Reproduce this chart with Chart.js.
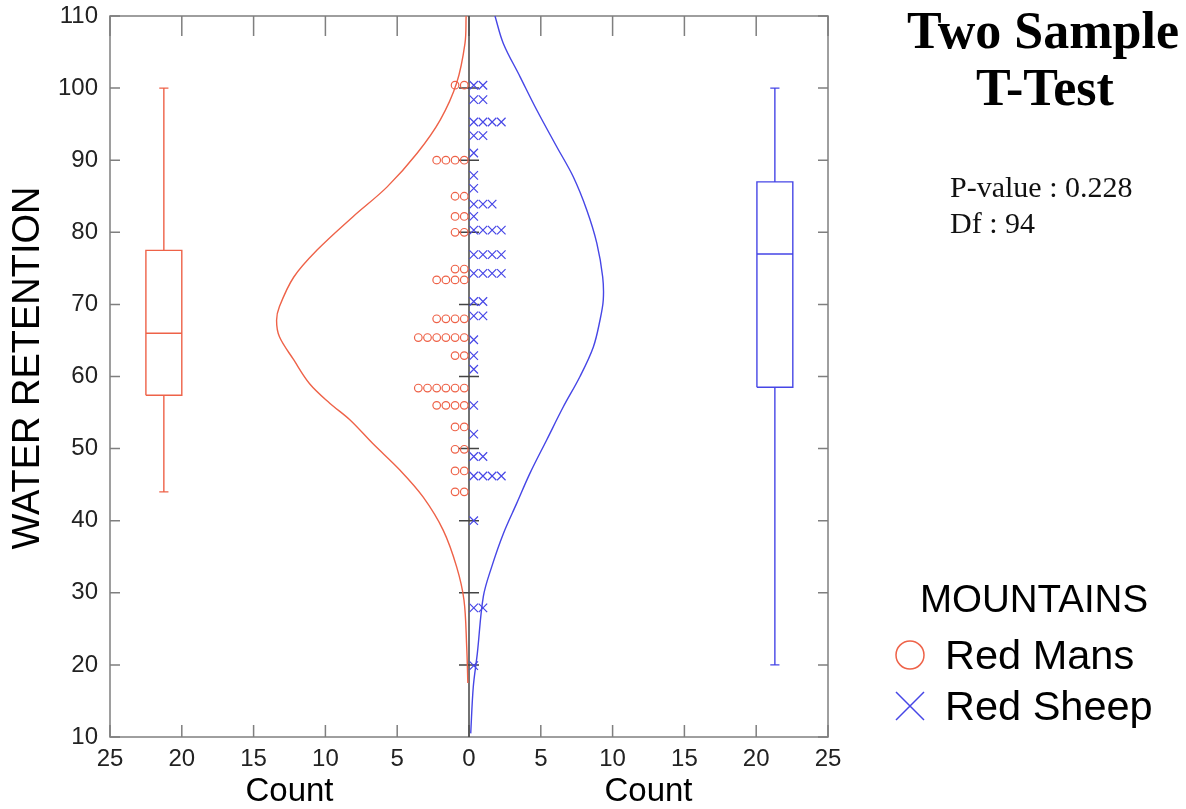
<!DOCTYPE html>
<html>
<head>
<meta charset="utf-8">
<script src="https://cdn.jsdelivr.net/npm/chart.js@4.4.1/dist/chart.umd.min.js"></script>
<style>
  html, body { margin: 0; padding: 0; background: #fff; }
  #wrap { width: 1186px; height: 809px; }
</style>
</head>
<body>
<div id="wrap"><canvas id="myChart"></canvas></div>
<script>
// dot rows: water retention level and how many symbols sit on that row
const redLevels = [100.4, 90, 85, 82.2, 80, 74.9, 73.4, 68, 65.4, 62.9, 58.4, 56, 53, 49.9, 46.9, 44]
const redCounts = [2, 4, 2, 2, 2, 2, 4, 4, 6, 2, 6, 4, 2, 2, 2, 2]
const blueLevels = [100.4, 98.4, 95.3, 93.4, 91, 87.9, 86.1, 83.9, 82.2, 80.3, 76.9, 74.3, 70.4, 68.4, 65.1, 62.9, 61, 56, 52, 48.9, 46.2, 40, 27.9, 19.9]
const blueCounts = [2, 2, 4, 2, 1, 1, 1, 3, 1, 4, 4, 4, 2, 2, 1, 1, 1, 1, 1, 2, 4, 1, 2, 1]

// fitted curves (y = retention, c = count)
const redCurveY = [110, 106.2, 100.7, 95.6, 91.0, 86.3, 82.2, 77.5, 73.8, 69.7, 67.8, 65.5, 62.3, 59.0, 56.3, 54.0, 50.7, 47.0, 43.3, 38.7, 33.6, 29.0, 22.5, 17.5]
const redCurveC = [0.2, 0.28, 0.86, 2.0, 3.6, 5.7, 8.06, 10.6, 12.2, 13.2, 13.4, 13.2, 12.2, 11.1, 9.7, 8.3, 6.7, 4.8, 3.2, 1.8, 0.86, 0.35, 0.16, 0.08]
const blueCurveY = [110, 106.2, 101.6, 97.0, 91.9, 87.7, 83.1, 78.5, 73.8, 70.6, 67.8, 64.1, 60.0, 55.8, 51.2, 46.6, 42.4, 38.2, 33.6, 29.5, 21.6, 17, 10.5]
const blueCurveC = [1.81, 2.39, 3.55, 4.71, 6.1, 7.26, 8.2, 8.9, 9.31, 9.35, 9.12, 8.66, 7.73, 6.57, 5.41, 4.25, 3.32, 2.39, 1.58, 1.0, 0.58, 0.3, 0.12]

// box plots: min, q1, median, q3, max
const redBox = [44, 57.4, 66, 77.5, 100]
const blueBox = [20, 58.5, 77, 87, 100]

const xTicks = [-25, -20, -15, -10, -5, 0, 5, 10, 15, 20, 25]
const yTicks = [10, 20, 30, 40, 50, 60, 70, 80, 90, 100, 110]

const RED = '#ee6248'
const BLUE = '#4646e6'

const dotStep = 0.64
const dotStart = 0.33

function dots(levels, counts, side) {
  const pts = []
  levels.forEach((y, i) => {
    for (let k = 0; k < counts[i]; k++) {
      pts.push({ x: side * (dotStart + dotStep * k), y: y })
    }
  })
  return pts
}

function curve(ys, cs, side) {
  return ys.map((y, i) => ({ x: side * cs[i], y: y }))
}

function boxPath(s, c) {
  const h = 1.25, cap = 0.32
  const gap = { x: null, y: null }
  return [
    { x: c - h, y: s[1] }, { x: c + h, y: s[1] }, { x: c + h, y: s[3] }, { x: c - h, y: s[3] }, { x: c - h, y: s[1] }, gap,
    { x: c - h, y: s[2] }, { x: c + h, y: s[2] }, gap,
    { x: c, y: s[3] }, { x: c, y: s[4] }, gap,
    { x: c, y: s[1] }, { x: c, y: s[0] }, gap,
    { x: c - cap, y: s[4] }, { x: c + cap, y: s[4] }, gap,
    { x: c - cap, y: s[0] }, { x: c + cap, y: s[0] }
  ]
}

const lineSet = (data, color, tension) => ({
  type: 'scatter', data: data, showLine: true, borderColor: color, borderWidth: 1.4,
  pointRadius: 0, fill: false, spanGaps: false, tension: tension
})

const frame = {
  id: 'frame',
  beforeDatasetsDraw(chart) {
    const { ctx, chartArea: a, scales: { x, y } } = chart
    ctx.save()
    ctx.strokeStyle = '#7f7f7f'
    ctx.lineWidth = 1.5
    ctx.strokeRect(a.left, a.top, a.right - a.left, a.bottom - a.top)
    ctx.beginPath()
    xTicks.forEach(t => {
      const px = x.getPixelForValue(t)
      ctx.moveTo(px, a.top); ctx.lineTo(px, a.top + 20)
      ctx.moveTo(px, a.bottom); ctx.lineTo(px, a.bottom - 12)
    })
    yTicks.forEach(t => {
      const py = y.getPixelForValue(t)
      ctx.moveTo(a.left, py); ctx.lineTo(a.left + 10, py)
      ctx.moveTo(a.right, py); ctx.lineTo(a.right - 10, py)
    })
    ctx.stroke()
    // centre axis with its own ticks
    const cx = x.getPixelForValue(0)
    ctx.strokeStyle = '#444'
    ctx.beginPath()
    ctx.moveTo(cx, a.top); ctx.lineTo(cx, a.bottom)
    yTicks.slice(1, -1).forEach(t => {
      const py = y.getPixelForValue(t)
      ctx.moveTo(cx - 10, py); ctx.lineTo(cx + 10, py)
    })
    ctx.stroke()
    ctx.restore()
  },
  afterDraw(chart) {
    const { ctx, scales: { x } } = chart
    ctx.save()
    ctx.fillStyle = '#000'
    ctx.textAlign = 'center'
    ctx.textBaseline = 'alphabetic'
    ctx.font = '33px "Liberation Sans", Arial, sans-serif'
    ctx.fillText('Count', x.getPixelForValue(-12.5), 801)
    ctx.fillText('Count', x.getPixelForValue(12.5), 801)

    // y title
    ctx.save()
    ctx.translate(29, 368)
    ctx.rotate(-Math.PI / 2)
    ctx.textBaseline = 'middle'
    ctx.font = '38px "Liberation Sans", Arial, sans-serif'
    ctx.fillText('WATER RETENTION', 0, 0)
    ctx.restore()

    ctx.font = 'bold 52px "Liberation Serif", "Times New Roman", serif'
    ctx.fillText('Two Sample', 1043, 48)
    ctx.fillText('T-Test', 1045, 105)

    ctx.textAlign = 'left'
    ctx.font = '30px "Liberation Serif", "Times New Roman", serif'
    ctx.fillStyle = '#111'
    ctx.fillText('P-value : 0.228', 950, 197)
    ctx.fillText('Df : 94', 950, 233)

    // legend
    ctx.fillStyle = '#000'
    ctx.textAlign = 'center'
    ctx.font = '38.5px "Liberation Sans", Arial, sans-serif'
    ctx.fillText('MOUNTAINS', 1034, 612)
    ctx.textAlign = 'left'
    ctx.font = '41.5px "Liberation Sans", Arial, sans-serif'
    const items = chart.data.datasets.filter(d => d.legend)
    items.forEach((d, i) => {
      const ly = 655 + i * 51
      ctx.strokeStyle = d.borderColor
      ctx.lineWidth = 1.5
      ctx.beginPath()
      if (d.pointStyle === 'circle') {
        ctx.arc(910, ly, 14, 0, Math.PI * 2)
      } else {
        ctx.moveTo(896, ly - 14); ctx.lineTo(924, ly + 14)
        ctx.moveTo(896, ly + 14); ctx.lineTo(924, ly - 14)
      }
      ctx.stroke()
      ctx.fillText(d.label, 945, ly + 14)
    })
    ctx.restore()
  }
}

const ctx = document.getElementById('myChart')
new Chart(ctx, {
  type: 'scatter',
  data: {
    datasets: [
      { label: 'Red Mans', legend: true, data: dots(redLevels, redCounts, -1), pointStyle: 'circle', pointRadius: 3.8,
        borderColor: RED, backgroundColor: 'transparent', borderWidth: 1.2 },
      { label: 'Red Sheep', legend: true, data: dots(blueLevels, blueCounts, 1), pointStyle: 'crossRot', pointRadius: 6,
        borderColor: BLUE, backgroundColor: BLUE, borderWidth: 1.2 },
      lineSet(curve(redCurveY, redCurveC, -1), RED, 0.35),
      lineSet(curve(blueCurveY, blueCurveC, 1), BLUE, 0.35),
      lineSet(boxPath(redBox, -21.25), RED, 0),
      lineSet(boxPath(blueBox, 21.3), BLUE, 0)
    ]
  },
  options: {
    responsive: true,
    maintainAspectRatio: false,
    animation: false,
    layout: { padding: { left: 0, right: 358, top: 16, bottom: 0 } },
    plugins: {
      legend: { display: false },
      tooltip: { enabled: false }
    },
    scales: {
      x: {
        type: 'linear', min: -25, max: 25,
        afterFit: s => { s.height = 72; s.paddingLeft = 0; s.paddingRight = 0 },
        afterBuildTicks: s => { s.ticks = xTicks.map(v => ({ value: v })) },
        grid: { display: false, drawTicks: false },
        border: { display: false },
        ticks: {
          padding: 8, color: '#222',
          font: { family: '"Liberation Sans", Arial, sans-serif', size: 24 },
          callback: v => Math.abs(v)
        }
      },
      y: {
        type: 'linear', min: 10, max: 110,
        afterFit: s => { s.width = 110; s.paddingTop = 0; s.paddingBottom = 0 },
        afterBuildTicks: s => { s.ticks = yTicks.map(v => ({ value: v })) },
        grid: { display: false, drawTicks: false },
        border: { display: false },
        ticks: {
          padding: 12, color: '#222',
          font: { family: '"Liberation Sans", Arial, sans-serif', size: 24 }
        }
      }
    }
  },
  plugins: [frame]
})
</script>
</body>
</html>
